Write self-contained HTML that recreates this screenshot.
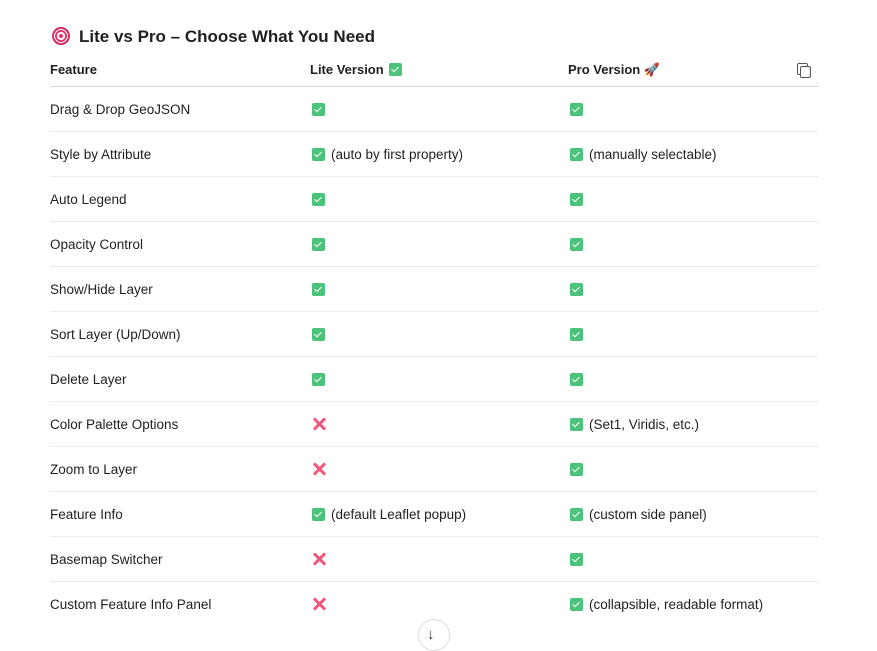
<!DOCTYPE html>
<html><head><meta charset="utf-8"><style>
body{margin:0;width:877px;height:641px;background:#fff;font-family:"Liberation Sans",sans-serif;color:#1f1f1f;position:relative;overflow:hidden}
.t{position:absolute;white-space:nowrap;font-size:13.5px;line-height:16px}
.h{font-weight:bold;font-size:13px}
.ln{position:absolute;left:50px;width:769px;height:1px;background:#ececec}
.ck{display:inline-block;width:13px;height:13px;border-radius:2px;background:#4cc37a;vertical-align:-2px;position:relative;margin-right:6px}
.ck:after{content:"";position:absolute;left:3.5px;top:2px;width:3px;height:6px;border:solid #fff;border-width:0 1.8px 1.8px 0;transform:rotate(45deg)}
.x{display:inline-block;width:14px;height:14px;position:relative;vertical-align:-2px}
.x:before,.x:after{content:"";position:absolute;left:6px;top:-1px;width:3px;height:16px;background:#f2577c;border-radius:1px;transform:rotate(45deg)}
.x:after{transform:rotate(-45deg)}
</style></head><body>
<div class="t" style="left:52px;top:27px;font-size:17px;line-height:20px;font-weight:bold"><span style="display:inline-block;width:18px;height:18px;border-radius:50%;background:radial-gradient(circle,#e8336a 0 2px,#fff 2px 4px,#e8336a 4px 6px,#fff 6px 7px,#d92f64 7px);vertical-align:-3px;margin-right:9px"></span>Lite vs Pro – Choose What You Need</div>
<div class="t h" style="left:50px;top:62px">Feature</div>
<div class="t h" style="left:310px;top:62px">Lite Version <span class="ck" style="margin-left:2px"></span></div>
<div class="t h" style="left:568px;top:62px">Pro Version <span style="color:#e84a7a">🚀</span></div>
<div style="position:absolute;left:797px;top:63px;width:9px;height:10px;border:1.5px solid #555;border-radius:2px;background:#fff"></div>
<div style="position:absolute;left:800px;top:66px;width:9px;height:10px;border:1.5px solid #555;border-radius:2px;background:#fff"></div>
<div class="ln" style="top:86px;background:#d8d8d8"></div>
<div id="rows"></div>
<div style="position:absolute;left:418px;top:619px;width:30px;height:30px;border:1px solid #ddd;border-radius:50%;background:#fff"></div>
<div class="t" style="left:427px;top:627px;font-size:15px;color:#333">↓</div>
<script>
var r=[["Drag & Drop GeoJSON",1,"",1,""],["Style by Attribute",1,"(auto by first property)",1,"(manually selectable)"],["Auto Legend",1,"",1,""],["Opacity Control",1,"",1,""],["Show/Hide Layer",1,"",1,""],["Sort Layer (Up/Down)",1,"",1,""],["Delete Layer",1,"",1,""],["Color Palette Options",0,"",1,"(Set1, Viridis, etc.)"],["Zoom to Layer",0,"",1,""],["Feature Info",1,"(default Leaflet popup)",1,"(custom side panel)"],["Basemap Switcher",0,"",1,""],["Custom Feature Info Panel",0,"",1,"(collapsible, readable format)"]];
var h="";r.forEach(function(e,i){var y=102+i*45;
h+='<div class="t" style="left:50px;top:'+y+'px">'+e[0].replace("&","&amp;")+'</div>';
h+='<div class="t" style="left:312px;top:'+y+'px">'+(e[1]?'<span class="ck"></span>':'<span class="x"></span>')+e[2]+'</div>';
h+='<div class="t" style="left:570px;top:'+y+'px"><span class="ck"></span>'+e[4]+'</div>';
if(i<11)h+='<div class="ln" style="top:'+(131+i*45)+'px"></div>';});
document.getElementById("rows").innerHTML=h;
</script>
</body></html>
